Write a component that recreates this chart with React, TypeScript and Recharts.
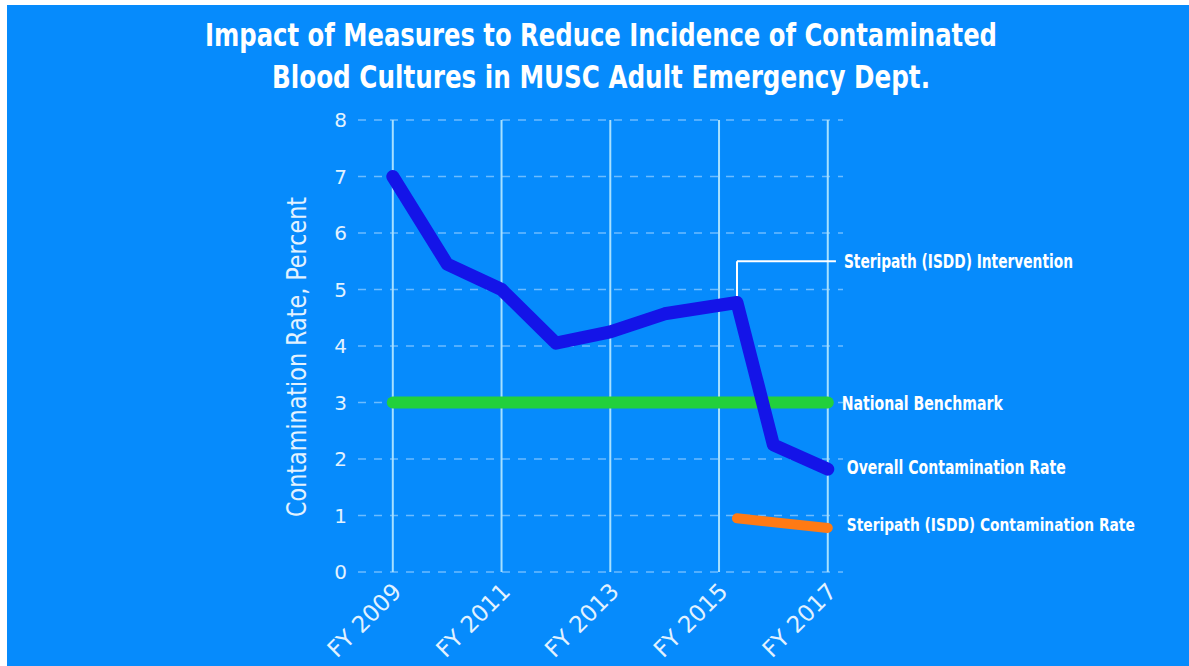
import { LineChart, Line, XAxis, YAxis, CartesianGrid, ReferenceLine, ReferenceDot } from 'recharts'

// overall contamination rate, % (FY, intervention point sits a third into FY 2015)
const years = [2009, 2010, 2011, 2012, 2013, 2014, 2015.33, 2016, 2017]
const overallRate = [7.0, 5.45, 5.0, 4.05, 4.25, 4.57, 4.77, 2.25, 1.82]

const steripathYears = [2015.33, 2017]
const steripathRate = [0.95, 0.78]

const benchmarkYears = [2009, 2017]
const benchmarkRate = [3, 3]

const xTicks = [2009, 2011, 2013, 2015, 2017]
const xTickLabels = ['FY 2009', 'FY 2011', 'FY 2013', 'FY 2015', 'FY 2017']
const yTicks = [0, 1, 2, 3, 4, 5, 6, 7, 8]

const interventionYear = 2015.33
const interventionLevel = 5.5
const interventionEnd = 2017.15

const BG = '#068bfc'
const NARROW = "'Liberation Sans Narrow', 'DejaVu Sans Condensed', 'Roboto Condensed', sans-serif"
const ROUND = "'DejaVu Sans', 'Open Sans', sans-serif"

const toRows = (xs: number[], ys: number[]) => xs.map((year, i) => ({ year, rate: ys[i] }))

const overallData = toRows(years, overallRate)
const steripathData = toRows(steripathYears, steripathRate)
const benchmarkData = toRows(benchmarkYears, benchmarkRate)

function XTick({ x, y, payload }: any) {
  const label = xTickLabels[xTicks.indexOf(payload.value)] ?? ''
  return (
    <g transform={`translate(${x + 10},${y + 21})`}>
      <text textAnchor="end" transform="rotate(-45)" fill="#e2f2ff" fontSize={23} fontFamily={ROUND}>
        {label}
      </text>
    </g>
  )
}

function sideLabel(text: string, dx: number, dy: number, width: number, size = 19) {
  return (props: any) => (
    <text
      x={props.cx + dx}
      y={props.cy + dy}
      dominantBaseline="central"
      fill="#ffffff"
      fontSize={size}
      fontWeight="bold"
      fontFamily={NARROW}
      textLength={width}
      lengthAdjust="spacingAndGlyphs"
    >
      {text}
    </text>
  )
}

export default function App() {
  const last = (a: number[]) => a[a.length - 1]

  return (
    <div style={{ position: 'absolute', left: 7, top: 5, width: 1182, height: 661, background: BG, overflow: 'hidden' }}>
      <svg width={1182} height={661} style={{ position: 'absolute', left: 0, top: 0 }}>
        <text x={594} y={41} textAnchor="middle" fill="#fff" fontSize={32} fontWeight="bold" fontFamily={NARROW}
          textLength={792} lengthAdjust="spacingAndGlyphs">
          Impact of Measures to Reduce Incidence of Contaminated
        </text>
        <text x={594} y={83} textAnchor="middle" fill="#fff" fontSize={32} fontWeight="bold" fontFamily={NARROW}
          textLength={658} lengthAdjust="spacingAndGlyphs">
          Blood Cultures in MUSC Adult Emergency Dept.
        </text>
        <text x={0} y={0} transform="translate(299,352) rotate(-90)" textAnchor="middle" fill="#e2f2ff"
          fontSize={26} fontFamily={NARROW} textLength={320} lengthAdjust="spacingAndGlyphs">
          Contamination Rate, Percent
        </text>
      </svg>
      <div style={{ position: 'absolute', left: 0, top: 0 }}>
        <LineChart width={1182} height={661} margin={{ top: 115, right: 346, left: 291, bottom: 14 }}>
          <CartesianGrid vertical={false} stroke="#6cbcff" strokeWidth={1.5} strokeDasharray="8 8" />
          {xTicks.map((t) => (
            <ReferenceLine key={t} x={t} stroke="#a6e0ff" strokeWidth={2} />
          ))}
          <XAxis
            dataKey="year"
            type="number"
            domain={[2008.36, 2017.28]}
            ticks={xTicks}
            interval={0}
            tick={<XTick />}
            tickSize={0}
            tickMargin={0}
            axisLine={false}
            tickLine={false}
            height={80}
          />
          <YAxis
            type="number"
            domain={[0, 8]}
            ticks={yTicks}
            interval={0}
            width={60}
            axisLine={false}
            tickLine={false}
            tickSize={0}
            tickMargin={11}
            tick={{ fill: '#e2f2ff', fontSize: 20, fontFamily: ROUND }}
          />
          <ReferenceLine
            segment={[{ x: interventionYear, y: overallRate[6] }, { x: interventionYear, y: interventionLevel }]}
            stroke="#ffffff"
            strokeWidth={2}
          />
          <ReferenceLine
            segment={[{ x: interventionYear, y: interventionLevel }, { x: interventionEnd, y: interventionLevel }]}
            stroke="#ffffff"
            strokeWidth={2}
          />
          <Line data={benchmarkData} dataKey="rate" type="linear" stroke="#22d03c" strokeWidth={12}
            strokeLinecap="round" dot={false} isAnimationActive={false} />
          <Line data={overallData} dataKey="rate" type="linear" stroke="#1414e8" strokeWidth={13}
            strokeLinecap="round" strokeLinejoin="round" dot={false} isAnimationActive={false} />
          <Line data={steripathData} dataKey="rate" type="linear" stroke="#ff7a14" strokeWidth={10}
            strokeLinecap="round" dot={false} isAnimationActive={false} />
          <ReferenceDot x={interventionEnd} y={interventionLevel} r={0}
            shape={sideLabel('Steripath (ISDD) Intervention', 8, 0, 229)} />
          <ReferenceDot x={last(benchmarkYears)} y={last(benchmarkRate)} r={0}
            shape={sideLabel('National Benchmark', 14, 0, 161)} />
          <ReferenceDot x={last(years)} y={last(overallRate)} r={0}
            shape={sideLabel('Overall Contamination Rate', 19, -2, 219)} />
          <ReferenceDot x={last(steripathYears)} y={last(steripathRate)} r={0}
            shape={sideLabel('Steripath (ISDD) Contamination Rate', 19, -3, 288, 17)} />
        </LineChart>
      </div>
    </div>
  )
}
